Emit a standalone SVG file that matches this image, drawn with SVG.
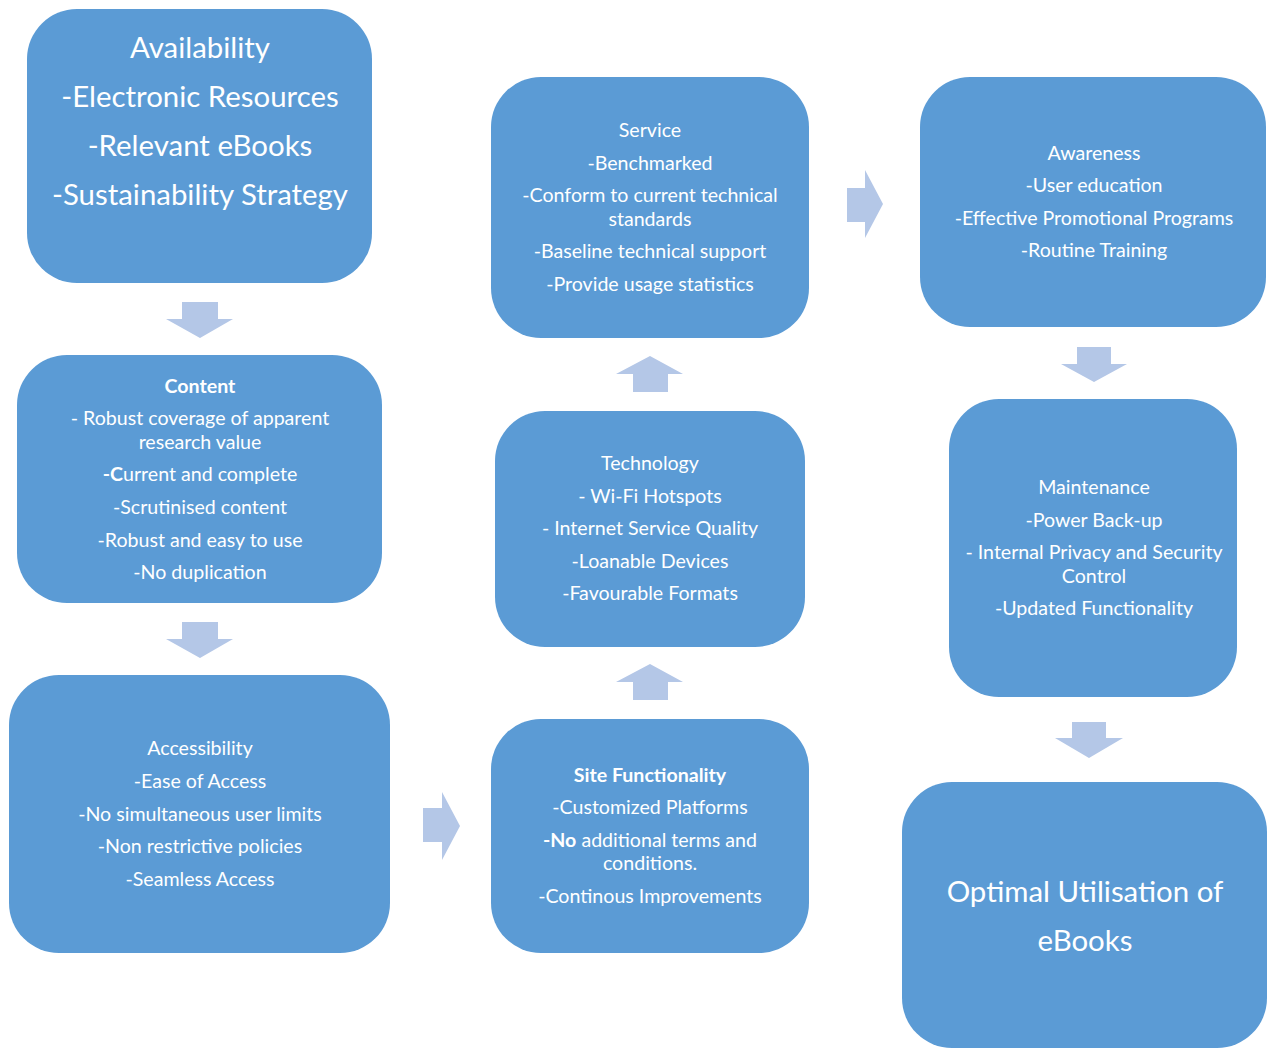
<svg xmlns="http://www.w3.org/2000/svg" width="1268" height="1049" viewBox="0 0 1268 1049">
<style>
.box{fill:#5B9BD5}
.arr{fill:#B4C7E7}
text{font-family:Lato,"Open Sans","Liberation Sans",sans-serif;fill:#FFFFFF;text-anchor:middle;font-size:19.6px}
.big{font-size:29.4px}
.b{font-weight:bold}
</style>
<rect x="0" y="0" width="1268" height="1049" fill="#FFFFFF"/>
<g id="connectors">
<polygon class="arr" points="182,302 218,302 218,319 233,319 200,338 166,319 182,319"/>
<polygon class="arr" points="182,622 218,622 218,639 233,639 200,658 166,639 182,639"/>
<polygon class="arr" points="423,808 442,808 442,792 460,826 442,860 442,842 423,842"/>
<polygon class="arr" points="650,664 683,682 668,682 668,700 633,700 633,682 616,682"/>
<polygon class="arr" points="650,356 683,374 668,374 668,392 633,392 633,374 616,374"/>
<polygon class="arr" points="847,188 865,188 865,170 883,204 865,238 865,222 847,222"/>
<polygon class="arr" points="1077,347 1111,347 1111,364 1127,364 1094,382 1061,364 1077,364"/>
<polygon class="arr" points="1072,722 1106,722 1106,738 1123,738 1089,758 1055,738 1072,738"/>
</g>
<g id="availability">
<rect class="box" x="27" y="9" width="345" height="274" rx="50"/>
<text class="big" x="200" y="58">Availability</text>
<text class="big" x="200" y="107">-Electronic Resources</text>
<text class="big" x="200" y="156">-Relevant eBooks</text>
<text class="big" x="200" y="205">-Sustainability Strategy</text>
</g>
<g id="content">
<rect class="box" x="17" y="355" width="365" height="248" rx="50"/>
<text class="b" x="200" y="393">Content</text>
<text x="200" y="425">- Robust coverage of apparent</text>
<text x="200" y="449">research value</text>
<text x="200" y="481"><tspan class="b">-C</tspan>urrent and complete</text>
<text x="200" y="514">-Scrutinised content</text>
<text x="200" y="547">-Robust and easy to use</text>
<text x="200" y="579">-No duplication</text>
</g>
<g id="accessibility">
<rect class="box" x="9" y="675" width="381" height="278" rx="50"/>
<text x="200" y="755">Accessibility</text>
<text x="200" y="788">-Ease of Access</text>
<text x="200" y="821">-No simultaneous user limits</text>
<text x="200" y="853">-Non restrictive policies</text>
<text x="200" y="886">-Seamless Access</text>
</g>
<g id="service">
<rect class="box" x="491" y="77" width="318" height="261" rx="50"/>
<text x="650" y="137">Service</text>
<text x="650" y="170">-Benchmarked</text>
<text x="650" y="202">-Conform to current technical</text>
<text x="650" y="226">standards</text>
<text x="650" y="258">-Baseline technical support</text>
<text x="650" y="291">-Provide usage statistics</text>
</g>
<g id="technology">
<rect class="box" x="495" y="411" width="310" height="236" rx="50"/>
<text x="650" y="470">Technology</text>
<text x="650" y="503">- Wi-Fi Hotspots</text>
<text x="650" y="535">- Internet Service Quality</text>
<text x="650" y="568">-Loanable Devices</text>
<text x="650" y="600">-Favourable Formats</text>
</g>
<g id="site-functionality">
<rect class="box" x="491" y="719" width="318" height="234" rx="50"/>
<text class="b" x="650" y="782">Site Functionality</text>
<text x="650" y="814">-Customized Platforms</text>
<text x="650" y="847"><tspan class="b">-No</tspan> additional terms and</text>
<text x="650" y="870">conditions.</text>
<text x="650" y="903">-Continous Improvements</text>
</g>
<g id="awareness">
<rect class="box" x="920" y="77" width="346" height="250" rx="50"/>
<text x="1094" y="160">Awareness</text>
<text x="1094" y="192">-User education</text>
<text x="1094" y="225">-Effective Promotional Programs</text>
<text x="1094" y="257">-Routine Training</text>
</g>
<g id="maintenance">
<rect class="box" x="949" y="399" width="288" height="298" rx="50"/>
<text x="1094" y="494">Maintenance</text>
<text x="1094" y="527">-Power Back-up</text>
<text x="1094" y="559">- Internal Privacy and Security</text>
<text x="1094" y="583">Control</text>
<text x="1094" y="615">-Updated Functionality</text>
</g>
<g id="optimal-utilisation">
<rect class="box" x="902" y="782" width="365" height="266" rx="50"/>
<text class="big" x="1085" y="902">Optimal Utilisation of</text>
<text class="big" x="1085" y="951">eBooks</text>
</g>
</svg>
